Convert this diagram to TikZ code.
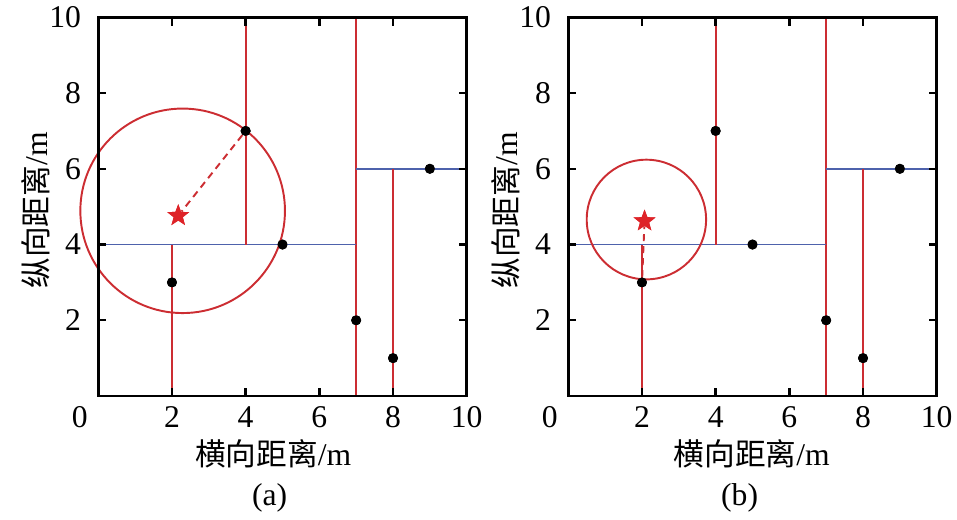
\documentclass[tikz,border=0pt]{standalone}
\usepackage{fontspec}
\setmainfont{Liberation Serif}
\newfontfamily\cjk{Noto Sans CJK SC}[Scale=0.97]
\usetikzlibrary{shapes.geometric}
\definecolor{cutred}{RGB}{204,45,50}
\definecolor{cutblue}{RGB}{78,98,172}
\definecolor{starred}{RGB}{222,35,40}

\begin{document}
\begin{tikzpicture}[x=0.7368cm, y=0.7574cm, font=\fontsize{18}{21}\selectfont]
\tikzset{cutv/.style={draw=cutred, line width=1.1pt},
  cuth/.style={draw=cutblue, line width=1.1pt},
  zone/.style={draw=cutred, line width=1.1pt},
  guess/.style={draw=cutred, line width=1.1pt, dash pattern=on 0.14cm off 0.1cm},
  frame/.style={draw=black, line width=1.4pt},
  sample/.style={circle, fill=black, inner sep=0pt, minimum size=0.2cm},
  query/.style={star, star points=5, star point ratio=2.4, fill=starred, inner sep=0pt, minimum size=0.46cm}}
\useasboundingbox (-2.668,-3.248) rectangle (23.309,10.457);
\foreach \sx/\tag/\qx/\qy/\cx/\cy/\rx/\ry/\nn/\lx in
  {0/a/2.17/4.76/2.29/4.89/2.777/2.70/4-7/4.75,
   12.758/b/2.07/4.62/2.12/4.66/1.62/1.58/2-3/4.98} {
\begin{scope}[shift={(\sx,0)}]
% samples and query point
\foreach \x/\y in {2/3,4/7,5/4,7/2,8/1,9/6}
  \node[sample] (d\tag-\x-\y) at (\x,\y) {};
\node[query] (q\tag) at (\qx,\qy) {};
\draw[guess] (d\tag-\nn) -- (q\tag);
% splitting lines
\draw[cutv] (7,0) -- (7,10);
\draw[cuth] (0,4) -- (7,4);
\draw[cutv] (4,4) -- (4,10);
\draw[cutv] (2,0) -- (2,4);
\draw[cuth] (7,6) -- (10,6);
\draw[cutv] (8,0) -- (8,6);
% search circle
\draw[zone] (\cx,\cy) ellipse [x radius=\rx, y radius=\ry];
\foreach \x/\y in {2/3,4/7,5/4,7/2,8/1,9/6}
  \node[sample] at (\x,\y) {};
\node[query] at (\qx,\qy) {};
% axes
\draw[frame] (0,0) rectangle (10,10);
\foreach \t in {2,4,6,8} {
  \draw[frame] (\t,0) -- ++(0,0.22);
  \draw[frame] (\t,10) -- ++(0,-0.22);
  \draw[frame] (0,\t) -- ++(0.22,0);
  \draw[frame] (10,\t) -- ++(-0.22,0);
}
\foreach \t in {2,4,6,8,10} {
  \node (yt\tag\t) [anchor=east] at (-0.3,\t) {\t};
  \node (xt\tag\t) at (\t,-0.55) {\t};
}
\node (xt\tag0) at (-0.5,-0.55) {0};
\node (xl\tag) at (\lx,-1.53) {{\cjk 横向距离}/m};
\node (yl\tag) [rotate=90] at (-1.7,4.9) {{\cjk 纵向距离}/m};
\node (cap\tag) at (4.65,-2.69) {(\tag)};
\end{scope}
}
\end{tikzpicture}
\end{document}
